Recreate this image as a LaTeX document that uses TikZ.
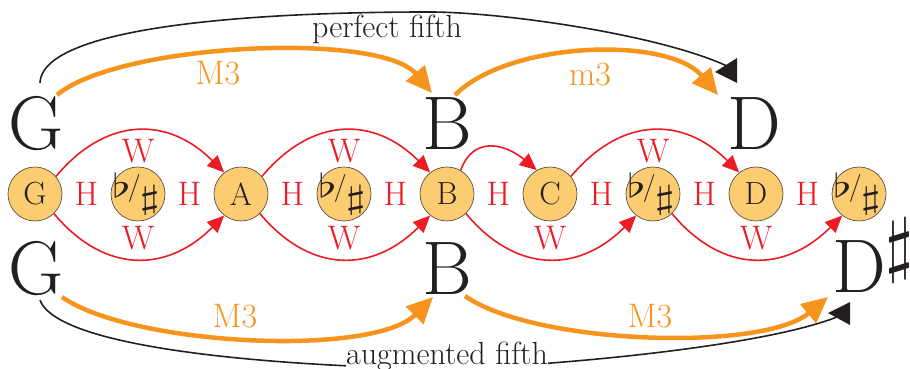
\documentclass[tikz,border=0pt]{standalone}
\usepackage{graphicx}
\usetikzlibrary{arrows.meta,calc}

\definecolor{notefill}{RGB}{252,204,112}
\definecolor{noteedge}{RGB}{90,80,70}
\definecolor{stepred}{RGB}{237,28,36}
\definecolor{thirdorange}{RGB}{247,148,30}
\definecolor{ink}{RGB}{35,31,32}

\newcommand{\fsz}[1]{\fontsize{#1}{#1}\selectfont}
% math symbols set at 10pt and then scaled
\newcommand{\bigsym}[3]{\scalebox{#1}[#2]{\fsz{10}$#3$}}
% accidental sign: flat / sharp, boxed with no size so the circle keeps its own
\newcommand{\flatsharp}{\makebox[0pt][c]{%
  \raisebox{-4pt}[0pt][0pt]{\bigsym{4.8}{3.3}{\flat}}\kern-3pt
  \raisebox{-2pt}[0pt][0pt]{\fsz{28}/}\kern-1pt
  \raisebox{-14.6pt}[0pt][0pt]{\bigsym{5.2}{3.3}{\sharp}}\kern4pt}}

\begin{document}
\begin{tikzpicture}[x=1pt,y=1pt,
  note/.style={circle,draw=noteedge,line width=0.7pt,fill=notefill,minimum size=54pt,inner sep=0pt,font=\fsz{32},text=ink},
  big/.style={inner sep=0pt,font=\fsz{76},text=ink,anchor=base},
  hl/.style={text=stepred,font=\fsz{34},inner sep=0pt},
  wl/.style={text=stepred,font=\fsz{34},inner sep=0pt},
  stepline/.style={draw=stepred,line width=1.6pt,-{Triangle[length=17pt,width=15pt]}},
  thirdline/.style={draw=thirdorange,line width=4.5pt,-{Triangle[length=26pt,width=24pt]}},
  thirdlbl/.style={text=thirdorange,font=\fsz{34},inner sep=0pt},
  fifthline/.style={draw=ink,line width=1.6pt},
  fifthlbl/.style={text=ink,font=\fsz{32},inner sep=0.5pt,anchor=base},
  fifthtip/.style={fill=ink}
]
\useasboundingbox (0,0) rectangle (910,369);
\clip (0,0) rectangle (910,369);

% chromatic row of notes
\node[note] (c0) at (35,175) {G};
\node[note] (c1) at (138,175) {\flatsharp};
\node[note] (c2) at (241,175) {A};
\node[note] (c3) at (344,175) {\flatsharp};
\node[note] (c4) at (447,175) {B};
\node[note] (c5) at (550,175) {C};
\node[note] (c6) at (653,175) {\flatsharp};
\node[note] (c7) at (756,175) {D};
\node[note] (c8) at (859,175) {\flatsharp};

% half steps
\foreach \i/\j in {0/1,1/2,2/3,3/4,4/5,5/6,6/7,7/8}
  \node[hl] (h\i) at ($(c\i)!.5!(c\j)$) {H};

% whole and half steps above the row
\draw[stepline] (c0.40) to[out=50,in=135,looseness=1.2] (c2.128);
\draw[stepline] (c2.40) to[out=50,in=135,looseness=1.2] (c4.128);
\draw[stepline] (c4.60) to[out=70,in=140,looseness=1.3] (c5.119);
\draw[stepline] (c5.40) to[out=50,in=135,looseness=1.2] (c7.128);
\node[wl] (wt0) at ($(c0)!.5!(c2)+(0,42.5)$) {W};
\node[wl] (wt1) at ($(c2)!.5!(c4)+(0,42.5)$) {W};
\node[wl] (wt2) at ($(c5)!.5!(c7)+(0,42.5)$) {W};

% whole steps below the row
\draw[stepline] (c0.-46) to[out=-50,in=-135,looseness=1.2] (c2.-128);
\draw[stepline] (c2.-46) to[out=-50,in=-135,looseness=1.2] (c4.-128);
\draw[stepline] (c4.-46) to[out=-50,in=-135,looseness=1.2] (c6.-128);
\draw[stepline] (c6.-46) to[out=-50,in=-135,looseness=1.2] (c8.-128);
\node[wl] (wb0) at ($(c0)!.5!(c2)+(0,-44)$) {W};
\node[wl] (wb1) at ($(c2)!.5!(c4)+(0,-44)$) {W};
\node[wl] (wb2) at ($(c4)!.5!(c6)+(0,-44)$) {W};
\node[wl] (wb3) at ($(c6)!.5!(c8)+(0,-44)$) {W};

% triad letters
\node[big] (gT) at (36.5,219) {G};
\node[big] (bT) at (447,219) {B};
\node[big] (dT) at (754,219) {D};
\node[big] (gB) at (36.5,74) {G};
\node[big] (bB) at (447,74) {B};
\node[big,anchor=base west] (dsB) at (832,76) {D\raisebox{24pt}[0pt][0pt]{\bigsym{7.2}{7.2}{\sharp}}};

% thirds
\draw[thirdline] ([shift={(20.5,55)}]gT.base) to[out=40,in=130,looseness=0.55] ([shift={(-15,57)}]bT.base);
\draw[thirdline] ([shift={(8,55)}]bT.base) to[out=45,in=130,looseness=0.75] ([shift={(-36,55)}]dT.base);
\draw[thirdline] ([shift={(25.5,-2)}]gB.base) to[out=-35,in=225,looseness=0.59] ([shift={(-14,-2)}]bB.base);
\draw[thirdline] ([shift={(18,-1)}]bB.base) to[out=-35,in=220,looseness=0.6] ([shift={(-4,-4)}]dsB.base west);
\node[thirdlbl] (mt0) at (218,296) {M3};
\node[thirdlbl] (mt1) at (590,294) {m3};
\node[thirdlbl] (mb0) at (235,53) {M3};
\node[thirdlbl] (mb1) at (650,53) {M3};

% fifths
\coordinate (pfTop) at (430,357);
\coordinate (pfEnd) at (735,299);
\coordinate (afLow) at (440,0.5);
\coordinate (afEnd) at (846,56);
\draw[fifthline] ([shift={(3.5,67)}]gT.base) to[out=88,in=180,looseness=0.45] (pfTop)
  to[out=0,in=152,looseness=0.6] (pfEnd);
\fill[fifthtip] (pfEnd) ++(-20,-2) -- ++(22,14) -- ++(0,-25) -- cycle;
\draw[fifthline] ([shift={(3.5,-5)}]gB.base) to[out=-70,in=180,looseness=0.4] (afLow)
  to[out=0,in=206,looseness=0.5] (afEnd);
\fill[fifthtip] (afEnd) ++(-18,0) -- ++(22,11) -- ++(0,-23) -- cycle;
\node[fifthlbl] (pf) at (387,331) {perfect fifth};
\node[fifthlbl,fill=white] (af) at (447,4) {augmented fifth};
\end{tikzpicture}
\end{document}
